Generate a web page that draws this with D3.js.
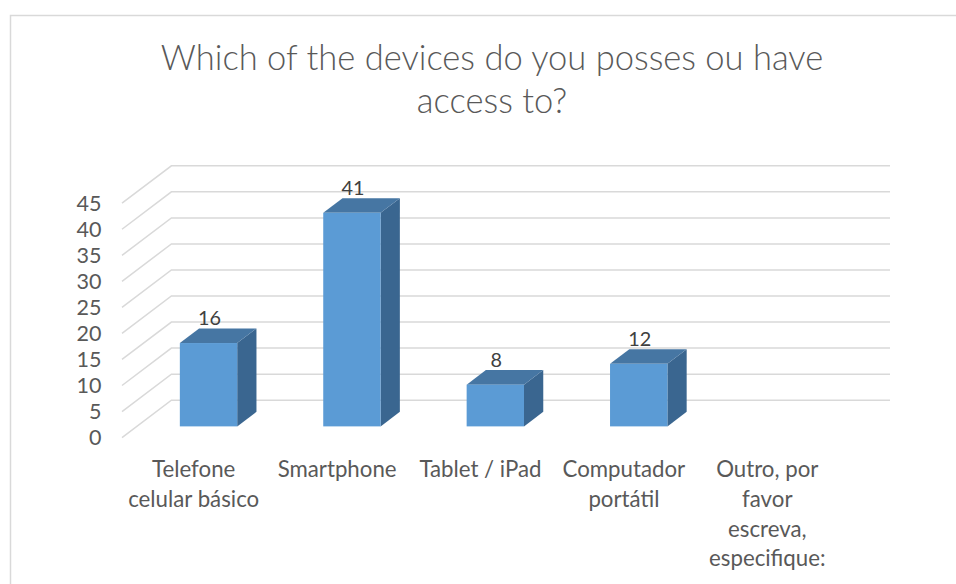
<!DOCTYPE html>
<html>
<head>
<meta charset="utf-8">
<script src="https://cdn.jsdelivr.net/npm/d3@7"></script>
<style>
  html, body { margin: 0; padding: 0; background: #fff; }
  svg { display: block; }
</style>
</head>
<body>
<svg id="chart" width="956" height="584"></svg>
<script>
// Survey answers: devices owned or accessible
const categories = [
  "Telefone\ncelular básico",
  "Smartphone",
  "Tablet / iPad",
  "Computador\nportátil",
  "Outro, por\nfavor\nescreva,\nespecifique:"
];
const counts = [16, 41, 8, 12, null];
const tickValues = [0, 5, 10, 15, 20, 25, 30, 35, 40, 45];
const titleLines = ["Which of the devices do you posses ou have", "access to?"];

const FONT = "Lato, 'Open Sans', 'Liberation Sans', sans-serif";
const svg = d3.select("#chart");

// Pick a font size so that a sample string spans a given width
function fitSize(sample, weight, target, base) {
  const t = svg.append("text")
    .attr("font-family", FONT).attr("font-weight", weight)
    .attr("font-size", base).text(sample);
  const w = t.node().getComputedTextLength();
  t.remove();
  return base * target / w;
}
const titleSize = fitSize(titleLines[0], 300, 663, 30);
const catSize = fitSize("Smartphone", 400, 119, 20);
const tickSize = fitSize("45", 400, 25, 20);
const labelSize = fitSize("41", 400, 23, 20);

// Chart frame
svg.append("path")
  .attr("d", "M10.5,584 V15.5 H956")
  .attr("fill", "none").attr("stroke", "#d9d9d9").attr("stroke-width", 1.5);

// Front edge of the floor and the depth vector of the 3D box
const x = d3.scaleBand().domain(categories).range([122, 839]).padding(0);
const y = d3.scaleLinear().domain([0, 45]).range([437.6, 203.2]);
const depth = { dx: 49.4, dy: -37.4 };
const backRight = 890;
const barFrac = 0.4;            // bar width / band width
const d0 = 0.3, d1 = 0.69;      // bar depth span as a fraction of box depth

// Gridlines: diagonal on the side wall, horizontal on the back wall
const grid = svg.append("g").attr("stroke", "#d9d9d9").attr("stroke-width", 1.5).attr("fill", "none");
tickValues.forEach(v => {
  const fx = x.range()[0], fy = y(v);
  const bx = fx + depth.dx, by = fy + depth.dy;
  grid.append("path").attr("d", `M${fx},${fy} L${bx},${by} H${backRight}`);
});

// Y tick labels
svg.append("g").selectAll("text").data(tickValues).join("text")
  .attr("x", 101.5).attr("y", d => y(d))
  .attr("dy", "0.36em")
  .attr("text-anchor", "end")
  .attr("font-family", FONT).attr("font-size", tickSize)
  .attr("fill", "#595959")
  .text(d => d);

// Bars as 3D boxes: side, top, front
const bars = categories.map((c, i) => ({ c, v: counts[i] })).filter(d => d.v != null);
const g = svg.append("g");
bars.forEach(d => {
  const bw = x.bandwidth() * barFrac;
  const cx = x(d.c) + x.bandwidth() / 2;
  const fx0 = cx - bw / 2 + depth.dx * d0, fx1 = fx0 + bw;
  const fy0 = y(0) + depth.dy * d0, fy1 = y(d.v) + depth.dy * d0;
  const ox = depth.dx * (d1 - d0), oy = depth.dy * (d1 - d0);
  // side face
  g.append("path")
    .attr("d", `M${fx1},${fy0} L${fx1 + ox},${fy0 + oy} L${fx1 + ox},${fy1 + oy} L${fx1},${fy1} Z`)
    .attr("fill", "#3a6690");
  // top face
  g.append("path")
    .attr("d", `M${fx0},${fy1} L${fx0 + ox},${fy1 + oy} L${fx1 + ox},${fy1 + oy} L${fx1},${fy1} Z`)
    .attr("fill", "#4676a3");
  // front face
  g.append("rect")
    .attr("x", fx0).attr("y", fy1).attr("width", bw).attr("height", fy0 - fy1)
    .attr("fill", "#5b9bd5");
  // value label
  g.append("text")
    .attr("x", (fx0 + fx1) / 2 + 1).attr("y", fy1 + oy - 3.5)
    .attr("text-anchor", "middle")
    .attr("font-family", FONT).attr("font-size", labelSize)
    .attr("fill", "#404040")
    .text(d.v);
});

// Category labels, centred under each band on the front edge
const cat = svg.append("g");
categories.forEach(c => {
  const t = cat.append("text")
    .attr("x", x(c) + x.bandwidth() / 2)
    .attr("y", 477)
    .attr("text-anchor", "middle")
    .attr("font-family", FONT).attr("font-size", catSize)
    .attr("fill", "#595959");
  c.split("\n").forEach((line, i) => {
    t.append("tspan").attr("x", x(c) + x.bandwidth() / 2).attr("y", 477 + i * 29.8).text(line);
  });
});

// Title
svg.append("text")
  .attr("text-anchor", "middle")
  .attr("font-family", FONT).attr("font-weight", 300).attr("font-size", titleSize)
  .attr("fill", "#595959")
  .selectAll("tspan").data(titleLines).join("tspan")
  .attr("x", 492).attr("y", (d, i) => 70 + i * 43.3)
  .text(d => d);
</script>
</body>
</html>
